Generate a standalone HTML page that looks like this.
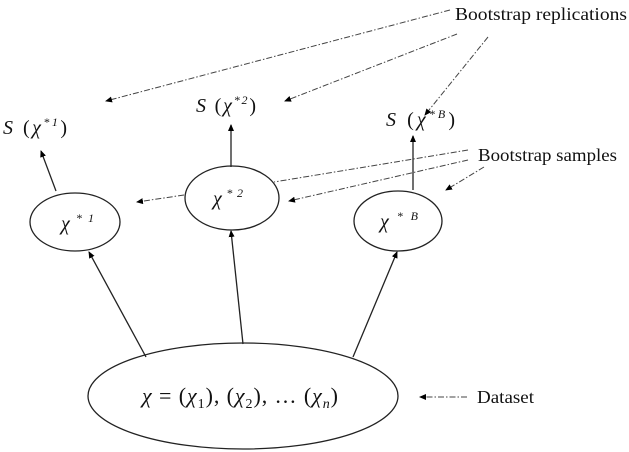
<!DOCTYPE html>
<html><head><style>body{margin:0;background:#fff}svg{display:block}</style></head><body>
<svg width="629" height="452" viewBox="0 0 629 452" xmlns="http://www.w3.org/2000/svg">
<defs><marker id="a" markerWidth="8" markerHeight="8" refX="6" refY="3" orient="auto" markerUnits="userSpaceOnUse"><path d="M0,0 L7,3 L0,6 z" fill="#000"/></marker></defs>
<g fill="none" stroke="#222" stroke-width="1.3">
<ellipse cx="75" cy="222" rx="45" ry="29"/>
<ellipse cx="232" cy="198" rx="47" ry="32"/>
<ellipse cx="398" cy="221" rx="44" ry="30"/>
<ellipse cx="243" cy="396" rx="155" ry="53"/>
<line x1="146" y1="357" x2="89" y2="252" marker-end="url(#a)"/>
<line x1="243" y1="344" x2="231" y2="231" marker-end="url(#a)"/>
<line x1="353" y1="357" x2="397" y2="252" marker-end="url(#a)"/>
<line x1="56" y1="191" x2="41" y2="151" marker-end="url(#a)"/>
<line x1="231" y1="167" x2="231" y2="125" marker-end="url(#a)"/>
<line x1="413" y1="190" x2="413" y2="136" marker-end="url(#a)"/>
</g>
<g fill="none" stroke="#444" stroke-width="1" stroke-dasharray="6,2,1.5,2">
<line x1="450" y1="10" x2="106" y2="101" marker-end="url(#a)"/>
<line x1="457" y1="34" x2="285" y2="101" marker-end="url(#a)"/>
<line x1="488" y1="37" x2="425" y2="115" marker-end="url(#a)"/>
<line x1="468" y1="150" x2="274" y2="182"/>
<line x1="468" y1="160" x2="289" y2="201" marker-end="url(#a)"/>
<line x1="484" y1="167" x2="446" y2="190" marker-end="url(#a)"/>
<line x1="184" y1="195" x2="137" y2="202" marker-end="url(#a)"/>
<line x1="467" y1="397" x2="420" y2="397" marker-end="url(#a)"/>
</g>
<g font-family="Liberation Serif, serif" fill="#111">
<text x="455" y="20" font-size="18" textLength="172" lengthAdjust="spacingAndGlyphs">Bootstrap replications</text>
<text x="478" y="161" font-size="18" textLength="139" lengthAdjust="spacingAndGlyphs">Bootstrap samples</text>
<text x="477" y="403" font-size="18" textLength="57" lengthAdjust="spacingAndGlyphs">Dataset</text>
<g font-size="20">
<text x="3" y="134" textLength="64" lengthAdjust="spacing"><tspan font-style="italic">S</tspan> (<tspan font-style="italic">χ</tspan><tspan font-size="12" dy="-8" font-style="italic">*1</tspan><tspan dy="8">)</tspan></text>
<text x="196" y="112" textLength="60" lengthAdjust="spacing"><tspan font-style="italic">S</tspan> (<tspan font-style="italic">χ</tspan><tspan font-size="12" dy="-8" font-style="italic">*2</tspan><tspan dy="8">)</tspan></text>
<text x="386" y="126" textLength="69" lengthAdjust="spacing"><tspan font-style="italic">S</tspan> (<tspan font-style="italic">χ</tspan><tspan font-size="12" dy="-8" font-style="italic">*B</tspan><tspan dy="8">)</tspan></text>
<text x="61" y="230" font-style="italic" textLength="33" lengthAdjust="spacing">χ<tspan font-size="12" dy="-8">*1</tspan></text>
<text x="213" y="205" font-style="italic" textLength="30" lengthAdjust="spacing">χ<tspan font-size="12" dy="-8">*2</tspan></text>
<text x="380" y="228" font-style="italic" textLength="38" lengthAdjust="spacing">χ<tspan font-size="12" dy="-8">*B</tspan></text>
<text x="142" y="403" font-size="22" textLength="196" lengthAdjust="spacing"><tspan font-style="italic">χ</tspan> = (<tspan font-style="italic">χ</tspan><tspan font-size="14" dy="5">1</tspan><tspan dy="-5">), (</tspan><tspan font-style="italic">χ</tspan><tspan font-size="14" dy="5">2</tspan><tspan dy="-5">), … (</tspan><tspan font-style="italic">χ</tspan><tspan font-size="14" dy="5" font-style="italic">n</tspan><tspan dy="-5">)</tspan></text>
</g></g>
</svg>
</body></html>
